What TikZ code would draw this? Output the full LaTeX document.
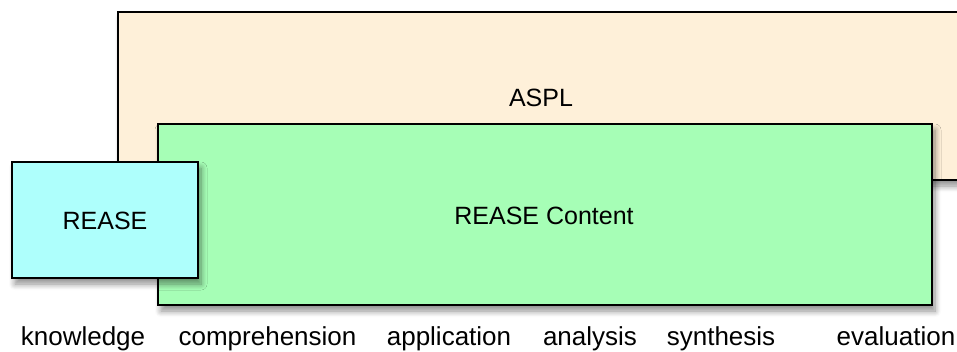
\documentclass[tikz,border=0pt]{standalone}
\usepackage{fontspec}
\setmainfont{Liberation Sans}
\usetikzlibrary{shadows.blur}
\definecolor{asplc}{HTML}{FEF0D9}
\definecolor{contc}{HTML}{A6FEB6}
\definecolor{reasec}{HTML}{AEFFFC}
\begin{document}
\begin{tikzpicture}[x=1pt,y=-1pt,
  boxs/.style={draw=black,line width=1.3pt,blur shadow={shadow xshift=3pt,shadow yshift=-6pt,shadow blur radius=6pt,shadow blur steps=8,shadow opacity=45}},
  lbl/.style={font=\fontsize{25}{28}\selectfont,inner sep=0pt,anchor=base},
  lvl/.style={font=\fontsize{26}{30}\selectfont,inner sep=0pt,anchor=base}]
\useasboundingbox (0,0) rectangle (957,351);
\clip (0,0) rectangle (957,351);
\path[boxs,fill=asplc] (118,12) rectangle (975,180);
\node[lbl] (aspl) at (541,106) {ASPL};
\path[boxs,fill=contc] (158,124) rectangle (932,305);
\node[lbl] (cont) at (544,224) {REASE Content};
\path[boxs,fill=reasec] (12,162) rectangle (198,278);
\node[lbl] (rease) at (105,229) {REASE};
\node[lvl] (k) at (83,345) {knowledge};
\node[lvl] (c) at (267.5,345) {comprehension};
\node[lvl] (ap) at (449,345) {application};
\node[lvl] (an) at (590,345) {analysis};
\node[lvl] (s) at (721,345) {synthesis};
\node[lvl] (e) at (896,345) {evaluation};
\end{tikzpicture}
\end{document}
